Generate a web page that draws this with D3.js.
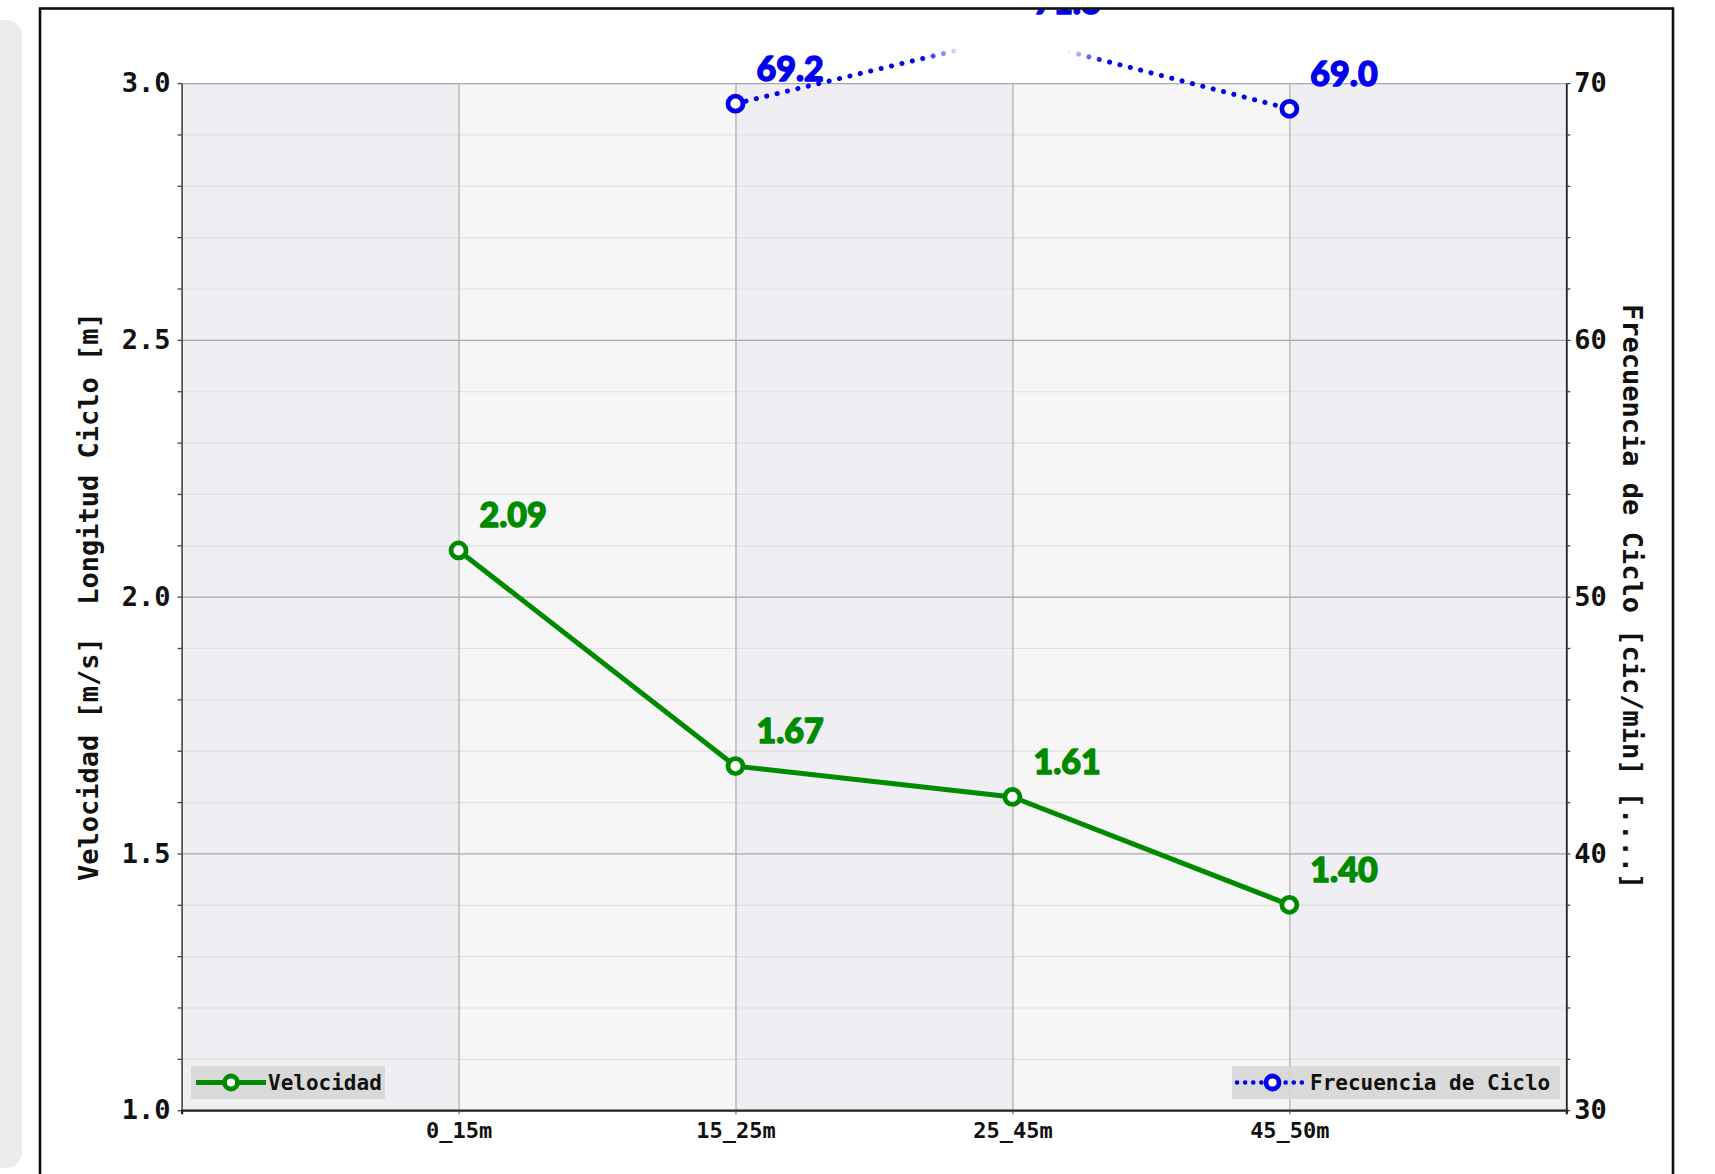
<!DOCTYPE html>
<html>
<head>
<meta charset="utf-8">
<script src="https://cdn.jsdelivr.net/npm/d3@7"></script>
<style>
  html, body { margin: 0; padding: 0; background: #ffffff; }
  svg { display: block; }
</style>
</head>
<body>
<script>
// ---- data ----
const categories = ["0_15m", "15_25m", "25_45m", "45_50m"];
const velocidad = [2.09, 1.67, 1.61, 1.40];
const frecuencia = [null, 69.2, 71.8, 69.0];
const leftTicks = [1.0, 1.5, 2.0, 2.5, 3.0];
const rightTicks = [30, 40, 50, 60, 70];
const leftTitle = "Velocidad [m/s]  Longitud Ciclo [m]";
const rightTitle = "Frecuencia de Ciclo [cic/min] [....]";
const legendLeft = "Velocidad";
const legendRight = "Frecuencia de Ciclo";

const W = 1715, H = 1174;
const L = 181.6, R = 1566.3, T = 83.1, B = 1110.2;
const GREEN = "#008a00", BLUE = "#0000ee";
const MONO = "'DejaVu Sans Mono', monospace";
const LBL = "Lato, 'Open Sans', sans-serif";

const svg = d3.select("body").append("svg").attr("width", W).attr("height", H);
const defs = svg.append("defs");
defs.append("clipPath").attr("id", "frameclip").append("rect")
  .attr("x", 39).attr("y", 8).attr("width", 1634).attr("height", 1200);
const rg = defs.append("radialGradient").attr("id", "fade");
rg.append("stop").attr("offset", "0%").attr("stop-color", "#fff").attr("stop-opacity", 1);
rg.append("stop").attr("offset", "55%").attr("stop-color", "#fff").attr("stop-opacity", 1);
rg.append("stop").attr("offset", "100%").attr("stop-color", "#fff").attr("stop-opacity", 0);

// left gray panel (UI artifact)
svg.append("rect").attr("x", -20).attr("y", 20).attr("width", 42).attr("height", 1148)
  .attr("rx", 16).attr("fill", "#ebebeb");

const g = svg.append("g").attr("clip-path", "url(#frameclip)");

// scales
const x = d3.scalePoint().domain(categories).range([L, R]).padding(1);
const yL = d3.scaleLinear().domain([1, 3]).range([B, T]);
const yR = d3.scaleLinear().domain([30, 70]).range([B, T]);

// background bands
const bandEdges = [L, ...categories.map(c => x(c)), R];
const bands = d3.range(bandEdges.length - 1).map(i => ({ x0: bandEdges[i], x1: bandEdges[i + 1], i }));
g.append("g").selectAll("rect").data(bands).join("rect")
  .attr("x", d => d.x0).attr("y", T).attr("width", d => d.x1 - d.x0).attr("height", B - T)
  .attr("fill", d => d.i % 2 === 0 ? "#eeeef3" : "#f6f6f6");

// minor gridlines
const minorVals = d3.range(1, 3.0001, 0.1).map(v => +v.toFixed(2));
g.append("g").attr("transform", `translate(${L},0)`)
  .call(d3.axisLeft(yL).tickValues(minorVals.filter(v => !leftTicks.includes(v))).tickSize(-(R - L)).tickFormat(""))
  .call(s => s.select(".domain").remove())
  .call(s => s.selectAll("line").attr("stroke", "#e0e0e0").attr("stroke-width", 1.2));
// major gridlines
g.append("g").attr("transform", `translate(${L},0)`)
  .call(d3.axisLeft(yL).tickValues(leftTicks).tickSize(-(R - L)).tickFormat(""))
  .call(s => s.select(".domain").remove())
  .call(s => s.selectAll("line").attr("stroke", "#a8a8a8").attr("stroke-width", 1.3));
// vertical gridlines
g.append("g").attr("transform", `translate(0,${B})`)
  .call(d3.axisBottom(x).tickSize(-(B - T)).tickFormat(""))
  .call(s => s.select(".domain").remove())
  .call(s => s.selectAll("line").attr("stroke", "#b0b0b0").attr("stroke-width", 1.3));

// left axis
const axL = g.append("g").attr("transform", `translate(${L},0)`)
  .call(d3.axisLeft(yL).tickValues(leftTicks).tickFormat(d3.format(".1f")).tickSize(0).tickPadding(11));
axL.select(".domain").attr("stroke", "#444").attr("stroke-width", 1.6);
axL.selectAll("text").attr("font-family", MONO).attr("font-weight", "bold").attr("font-size", 27).attr("fill", "#111");
g.append("g").attr("transform", `translate(${L},0)`)
  .call(d3.axisLeft(yL).tickValues(minorVals).tickSize(4).tickFormat(""))
  .call(s => s.select(".domain").remove())
  .call(s => s.selectAll("line").attr("stroke", "#444").attr("stroke-width", 1.3));

// right axis
const minorR = d3.range(30, 70.001, 2);
const axR = g.append("g").attr("transform", `translate(${R},0)`)
  .call(d3.axisRight(yR).tickValues(rightTicks).tickFormat(d3.format("d")).tickSize(0).tickPadding(8));
axR.select(".domain").attr("stroke", "#222").attr("stroke-width", 1.8);
axR.selectAll("text").attr("font-family", MONO).attr("font-weight", "bold").attr("font-size", 27).attr("fill", "#111");
g.append("g").attr("transform", `translate(${R},0)`)
  .call(d3.axisRight(yR).tickValues(minorR).tickSize(4).tickFormat(""))
  .call(s => s.select(".domain").remove())
  .call(s => s.selectAll("line").attr("stroke", "#444").attr("stroke-width", 1.3));

// bottom axis
const axB = g.append("g").attr("transform", `translate(0,${B})`)
  .call(d3.axisBottom(x).tickSize(4).tickPadding(8));
axB.select(".domain").attr("stroke", "#222").attr("stroke-width", 2.2);
axB.selectAll("line").attr("stroke", "#444");
axB.selectAll("text").attr("font-family", MONO).attr("font-weight", "bold").attr("font-size", 22).attr("fill", "#111");

// axis titles
g.append("text").attr("transform", `translate(88,${(T + B) / 2}) rotate(-90)`)
  .attr("text-anchor", "middle").attr("dominant-baseline", "central")
  .style("white-space", "pre")
  .attr("font-family", MONO).attr("font-weight", "bold").attr("font-size", 27).attr("fill", "#111")
  .text(leftTitle);
g.append("text").attr("transform", `translate(1632,${(T + B) / 2}) rotate(90)`)
  .attr("text-anchor", "middle").attr("dominant-baseline", "central")
  .style("white-space", "pre")
  .attr("font-family", MONO).attr("font-weight", "bold").attr("font-size", 27).attr("fill", "#111")
  .text(rightTitle);

// frecuencia series
const fData = categories.map((c, i) => ({ c, v: frecuencia[i] }));
const fLine = d3.line().defined(d => d.v != null).x(d => x(d.c)).y(d => yR(d.v));
g.append("path").datum(fData).attr("d", fLine).attr("fill", "none")
  .attr("stroke", BLUE).attr("stroke-width", 5).attr("stroke-linecap", "round")
  .attr("stroke-dasharray", "0.1 10.6");
const fPts = fData.filter(d => d.v != null);
g.append("g").selectAll("circle").data(fPts).join("circle")
  .attr("cx", d => x(d.c)).attr("cy", d => yR(d.v)).attr("r", 7.5)
  .attr("fill", "#fff").attr("stroke", BLUE).attr("stroke-width", 4.8);

// washed-out patch near the peak
const pk = fPts.reduce((a, b) => (b.v > a.v ? b : a));
g.append("ellipse").attr("cx", x(pk.c) + 2).attr("cy", yR(pk.v) + 8)
  .attr("rx", 100).attr("ry", 36).attr("fill", "url(#fade)");

g.append("g").selectAll("text").data(fPts).join("text")
  .attr("x", d => x(d.c) + 21).attr("y", d => yR(d.v) - 23)
  .attr("font-family", LBL).attr("font-weight", 900).attr("font-size", 34).attr("fill", BLUE)
  .attr("stroke", BLUE).attr("stroke-width", 1.4).attr("stroke-linejoin", "round")
  .text(d => d3.format(".1f")(d.v));

// velocidad series
const vData = categories.map((c, i) => ({ c, v: velocidad[i] }));
const vLine = d3.line().x(d => x(d.c)).y(d => yL(d.v));
g.append("path").datum(vData).attr("d", vLine).attr("fill", "none")
  .attr("stroke", GREEN).attr("stroke-width", 5).attr("stroke-linejoin", "round");
g.append("g").selectAll("circle").data(vData).join("circle")
  .attr("cx", d => x(d.c)).attr("cy", d => yL(d.v)).attr("r", 7.5)
  .attr("fill", "#fff").attr("stroke", GREEN).attr("stroke-width", 4.8);
g.append("g").selectAll("text").data(vData).join("text")
  .attr("x", d => x(d.c) + 21).attr("y", d => yL(d.v) - 23)
  .attr("font-family", LBL).attr("font-weight", 900).attr("font-size", 34).attr("fill", GREEN)
  .attr("stroke", GREEN).attr("stroke-width", 1.4).attr("stroke-linejoin", "round")
  .text(d => d3.format(".2f")(d.v));

// legends
function legend(x0, y0, w, h, color, dashed, label, lx0, lx1, tx) {
  const lg = g.append("g");
  lg.append("rect").attr("x", x0).attr("y", y0).attr("width", w).attr("height", h)
    .attr("fill", "#d6d6d6").attr("opacity", 0.9);
  const cy = y0 + h / 2;
  const ln = lg.append("line").attr("x1", lx0).attr("x2", lx1).attr("y1", cy).attr("y2", cy)
    .attr("stroke", color).attr("stroke-width", dashed ? 4.5 : 5);
  if (dashed) ln.attr("stroke-dasharray", "0.1 8").attr("stroke-linecap", "round");
  lg.append("circle").attr("cx", (lx0 + lx1) / 2).attr("cy", cy).attr("r", 6.5)
    .attr("fill", "#fff").attr("stroke", color).attr("stroke-width", 4.8);
  lg.append("text").attr("x", tx).attr("y", cy).attr("dominant-baseline", "central")
    .attr("font-family", MONO).attr("font-weight", "bold").attr("font-size", 21).attr("fill", "#111")
    .text(label);
}
legend(191, 1066, 194, 33, GREEN, false, legendLeft, 196, 266, 268);
legend(1232, 1066, 328, 33, BLUE, true, legendRight, 1237, 1308, 1310);

// outer frame
svg.append("rect").attr("x", 40).attr("y", 8.5).attr("width", 1633).attr("height", 1200)
  .attr("fill", "none").attr("stroke", "#111").attr("stroke-width", 2.6);
</script>
</body>
</html>
